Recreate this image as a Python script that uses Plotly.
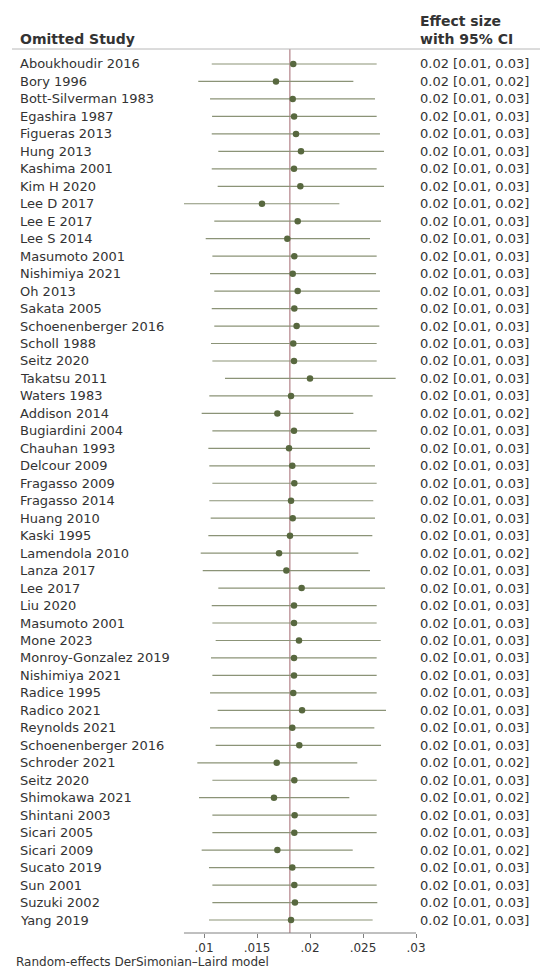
import plotly.graph_objects as go

# Leave-one-out meta-analysis: pooled effect size when each study is omitted
studies = [
    "Aboukhoudir 2016", "Bory 1996", "Bott-Silverman 1983", "Egashira 1987",
    "Figueras 2013", "Hung 2013", "Kashima 2001", "Kim H 2020", "Lee D 2017",
    "Lee E 2017", "Lee S 2014", "Masumoto 2001", "Nishimiya 2021", "Oh 2013",
    "Sakata 2005", "Schoenenberger 2016", "Scholl 1988", "Seitz 2020",
    "Takatsu 2011", "Waters 1983", "Addison 2014", "Bugiardini 2004",
    "Chauhan 1993", "Delcour 2009", "Fragasso 2009", "Fragasso 2014",
    "Huang 2010", "Kaski 1995", "Lamendola 2010", "Lanza 2017", "Lee 2017",
    "Liu 2020", "Masumoto 2001", "Mone 2023", "Monroy-Gonzalez 2019",
    "Nishimiya 2021", "Radice 1995", "Radico 2021", "Reynolds 2021",
    "Schoenenberger 2016", "Schroder 2021", "Seitz 2020", "Shimokawa 2021",
    "Shintani 2003", "Sicari 2005", "Sicari 2009", "Sucato 2019", "Sun 2001",
    "Suzuki 2002", "Yang 2019",
]

effect = [
    0.01842, 0.01679, 0.01837, 0.01850, 0.01868, 0.01915, 0.01849, 0.01909,
    0.01547, 0.01884, 0.01786, 0.01852, 0.01837, 0.01884, 0.01852, 0.01874,
    0.01842, 0.01849, 0.02000, 0.01821, 0.01692, 0.01849, 0.01802, 0.01833,
    0.01852, 0.01821, 0.01837, 0.01811, 0.01708, 0.01777, 0.01921, 0.01849,
    0.01849, 0.01896, 0.01849, 0.01849, 0.01842, 0.01925, 0.01833, 0.01899,
    0.01686, 0.01852, 0.01660, 0.01855, 0.01852, 0.01692, 0.01833, 0.01852,
    0.01858, 0.01821,
]

ci_low = [
    0.01073, 0.00946, 0.01057, 0.01076, 0.01073, 0.01135, 0.01073, 0.01129,
    0.00811, 0.01097, 0.01016, 0.01079, 0.01057, 0.01097, 0.01073, 0.01097,
    0.01066, 0.01079, 0.01198, 0.01050, 0.00978, 0.01079, 0.01041, 0.01050,
    0.01079, 0.01050, 0.01063, 0.01041, 0.00969, 0.00988, 0.01135, 0.01073,
    0.01079, 0.01110, 0.01066, 0.01079, 0.01057, 0.01129, 0.01057, 0.01110,
    0.00937, 0.01079, 0.00953, 0.01079, 0.01079, 0.00978, 0.01047, 0.01079,
    0.01079, 0.01047,
]

ci_high = [
    0.02629, 0.02409, 0.02613, 0.02629, 0.02660, 0.02698, 0.02629, 0.02698,
    0.02277, 0.02670, 0.02566, 0.02629, 0.02623, 0.02660, 0.02635, 0.02654,
    0.02629, 0.02629, 0.02808, 0.02591, 0.02409, 0.02629, 0.02566, 0.02613,
    0.02629, 0.02597, 0.02613, 0.02588, 0.02456, 0.02566, 0.02708, 0.02629,
    0.02629, 0.02667, 0.02629, 0.02629, 0.02629, 0.02717, 0.02607, 0.02670,
    0.02446, 0.02629, 0.02371, 0.02629, 0.02629, 0.02403, 0.02607, 0.02629,
    0.02635, 0.02591,
]

overall_es = 0.0181

tick_vals = [0.01, 0.015, 0.02, 0.025, 0.03]
tick_text = [".01", ".015", ".02", ".025", ".03"]

header_left = "Omitted Study"
header_right = ["Effect size", "with 95% CI"]
footnote = "Random-effects DerSimonian\u2013Laird model"

# ---- layout geometry (pixels) ----
W, H = 540, 969
top_rule_px = 49
axis_px = 933
first_row_px = 64
last_row_px = 920
n = len(studies)
row_step = (last_row_px - first_row_px) / (n - 1)
y_top = (top_rule_px - first_row_px) / row_step
y_bot = (axis_px - first_row_px) / row_step

x_range = [0.008, 0.031]
px_per_unit = 10600.0
px_01 = 204.0
x_dom = [(px_01 - (0.01 - x_range[0]) * px_per_unit) / W,
         (px_01 + (x_range[1] - 0.01) * px_per_unit) / W]

FONT = "DejaVu Sans"
TXT = "#333333"
DOT = "#58683f"
CI = "#8b9377"
REF = "#b88a90"
AXIS = "#808080"

rows = list(range(n))

fig = go.Figure()

fig.add_trace(go.Scatter(
    x=effect, y=rows, mode="markers",
    marker=dict(size=6.5, color=DOT, line=dict(width=0)),
    error_x=dict(type="data", symmetric=False,
                 array=[h - e for h, e in zip(ci_high, effect)],
                 arrayminus=[e - l for e, l in zip(effect, ci_low)],
                 color=CI, thickness=1.2, width=0),
    hoverinfo="skip", showlegend=False,
))

shapes = [
    # overall pooled estimate
    dict(type="line", xref="x", yref="y domain", x0=overall_es, x1=overall_es,
         y0=0, y1=1, line=dict(color=REF, width=1.3), layer="below"),
    # x-axis baseline from the smallest lower limit to the last tick
    dict(type="line", xref="x", yref="y domain", x0=min(ci_low), x1=tick_vals[-1],
         y0=0, y1=0, line=dict(color=AXIS, width=1)),
    # header rule
    dict(type="line", xref="paper", yref="paper", x0=12 / W, x1=1,
         y0=1 - top_rule_px / H, y1=1 - top_rule_px / H,
         line=dict(color="#b8b8b8", width=1)),
]

annotations = []
for i, (name, e, l, h) in enumerate(zip(studies, effect, ci_low, ci_high)):
    annotations.append(dict(
        x=18 / W, y=i, xref="paper", yref="y", text=name, showarrow=False,
        xanchor="left", yanchor="middle", font=dict(family=FONT, size=13, color=TXT)))
    annotations.append(dict(
        x=418 / W, y=i, xref="paper", yref="y",
        text=f"{e:.2f} [{l:.2f}, {h:.2f}]", showarrow=False,
        xanchor="left", yanchor="middle", font=dict(family=FONT, size=13, color=TXT)))

annotations.append(dict(
    x=18 / W, y=1 - 39 / H, xref="paper", yref="paper", text=f"<b>{header_left}</b>",
    showarrow=False, xanchor="left", yanchor="middle",
    font=dict(family=FONT, size=14, color=TXT)))
for k, line in enumerate(header_right):
    annotations.append(dict(
        x=418 / W, y=1 - (21 + 18 * k) / H, xref="paper", yref="paper",
        text=f"<b>{line}</b>", showarrow=False, xanchor="left", yanchor="middle",
        font=dict(family=FONT, size=14, color=TXT)))
annotations.append(dict(
    x=14 / W, y=1 - 962 / H, xref="paper", yref="paper", text=footnote,
    showarrow=False, xanchor="left", yanchor="middle",
    font=dict(family=FONT, size=12, color=TXT)))

fig.update_layout(
    width=W, height=H, autosize=False,
    margin=dict(l=0, r=0, t=0, b=0),
    paper_bgcolor="white", plot_bgcolor="white",
    xaxis=dict(domain=x_dom, range=x_range, tickvals=tick_vals, ticktext=tick_text,
               ticks="outside", ticklen=4, tickwidth=1, tickcolor=AXIS,
               showline=False, showgrid=False, zeroline=False,
               tickfont=dict(family=FONT, size=12, color=TXT)),
    yaxis=dict(domain=[1 - axis_px / H, 1 - top_rule_px / H],
               range=[y_bot, y_top], visible=False,
               showgrid=False, zeroline=False),
    shapes=shapes, annotations=annotations,
)

fig.write_html("out.html")
